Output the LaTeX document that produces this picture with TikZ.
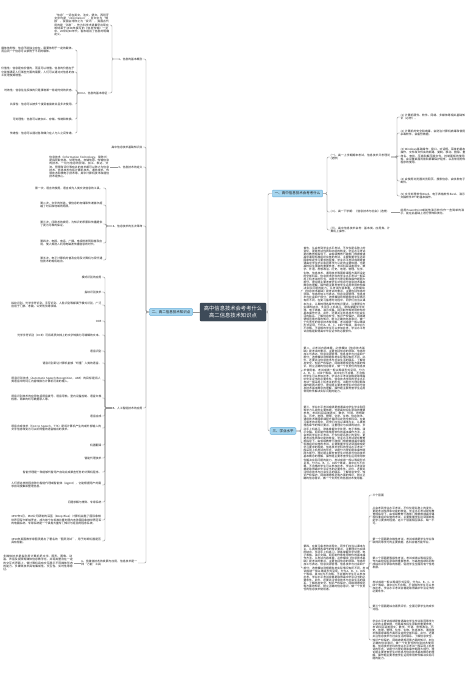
\documentclass[tikz,border=0pt]{standalone}
\usepackage{fontspec}
\setmainfont{Noto Sans CJK SC}
\XeTeXlinebreaklocale "zh"
\XeTeXlinebreakskip = 0pt plus 1pt
\usetikzlibrary{calc}
\definecolor{linegray}{RGB}{150,150,150}
\definecolor{centerfill}{RGB}{62,75,89}
\definecolor{branchfill}{RGB}{166,213,238}
\definecolor{branchdraw}{RGB}{98,172,218}
\definecolor{txtcol}{RGB}{25,25,25}
\newcommand\fsmall{\fontsize{2.8pt}{3.1pt}\selectfont\lineskiplimit=-5pt\lineskip=0pt\relax}
\newcommand\fbranch{\fontsize{3.5pt}{4pt}\selectfont}
\newcommand\fcenter{\fontsize{5.3pt}{7pt}\selectfont}
\newcommand\zwA{从会考到学业水平考试，不仅仅是名称上的变化，更是考试性质和功能的转变。学业水平考试是在教育部指导下，由省级教育行政部门根据普通高中课程标准组织实施的考试，主要衡量学生达到国家规定学习要求的程度。}
\newcommand\zwB{学业水平考试成绩是普通高中学生毕业和同等学力认定的主要依据，也是高校招生录取的重要参考。考试科目涵盖语文、数学、外语、思想政治、历史、地理、物理、化学、生物、信息技术、通用技术等国家课程方案所设定的全部科目。}
\newcommand\zwC{信息技术学科的学业水平考试一般采用上机考试的形式，试题分为理论题和操作题两大部分。理论题主要考查学生对信息与信息技术基本概念的理解，操作题主要考查学生运用常用软件解决实际问题的能力。}
\newcommand\zwD{从考试内容来看，必修模块《信息技术基础》是考试的重点，主要包括信息的获取、信息的加工与表达、信息资源管理、信息技术与社会四个部分；选修模块则根据各地实际情况有所不同。}
\newcommand\zwE{在复习备考的过程中，同学们应当以课本为主，认真梳理各章节的知识要点，注重理论与实践的结合，多动手上机练习，熟练掌握文字处理、电子表格、演示文稿、网页制作等常用软件的基本操作方法。}
\newcommand\zwF{此外，还要关注信息技术与社会生活的联系，了解信息安全、知识产权保护、网络道德规范等方面的知识，树立正确的信息意识，做一个负责任的信息技术使用者。}
\newcommand\zwG{考试成绩一般以等级形式呈现，分为A、B、C、D四个等级，其中D为不合格，不合格的学生可以参加补考。学业水平考试合格是取得高中毕业证书的必要条件。}
\tikzset{
  conn/.style={draw=linegray, line width=0.45pt, rounded corners=1.2pt},
  txt/.style={font=\fsmall, inner sep=0.4pt, align=left, text=txtcol},
  para/.style={txt, text width=#1},
  brbox/.style={draw=branchdraw, fill=branchfill, line width=0.4pt, rounded corners=1pt, font=\fbranch, inner xsep=2.5pt, inner ysep=1.8pt, text=txtcol},
  cbox/.style={fill=centerfill, draw=centerfill!80!black, line width=0.4pt, rounded corners=1pt, text=white, font=\fcenter, align=center, minimum width=66pt, minimum height=18pt, inner sep=1pt}
}
\begin{document}
\begin{tikzpicture}[x=1pt,y=-1pt]
\fill[white] (0,0) rectangle (473,675);
\useasboundingbox (0,0) rectangle (473,675);
% bracket x positions
\coordinate (tR) at (268,0);
\coordinate (tL) at (146,0);
\coordinate (bA1) at (112,0);
\coordinate (bA2) at (77,0);
\coordinate (bD) at (106,0);
\coordinate (bE) at (105,0);
\coordinate (bR1) at (327,0);
\coordinate (bB1) at (397,0);
\coordinate (bR3) at (301,0);
\coordinate (bP4) at (369,0);

% center
\node[cbox] (C) at (233,312) {高中信息技术会考考什么\\高二信息技术知识点};

% branches
\node[brbox] (R1) at (297.5,193.5) {一、高中信息技术会考考什么};
\node[brbox] (L2) at (171,312) {二、高二信息技术知识点};
\node[brbox] (R3) at (283,431) {三、学业水平};

% ---------- left side ----------
\node[txt, anchor=east] (A1) at (143,59) {1、信息的基本概念};
\node[txt, anchor=east] (B0) at (143,147) {高中信息技术基础知识点};
\node[txt, anchor=east] (C0) at (143,167) {3、信息技术的定义};
\node[txt, anchor=east] (D0) at (143,226) {4、信息技术的五次革命};
\node[txt, anchor=east] (E0) at (143,408) {5、人工智能技术的应用};
\node[para=56pt, anchor=east] (F0) at (138,563) {6、多媒体技术的发展与应用，信息技术是一种“万能”工具};

\node[para=55pt, anchor=east] (A1p) at (110,25) {“信息”一词在英文、法文、德文、西班牙文中均是“information”，日文中为“情报”，我国台湾称之为“资讯”，我国古代用的是“消息”。作为科学术语最早出现在哈特莱于1928年撰写的《信息传输》一文中。20世纪40年代，香农给出了信息的明确定义。};
\node[txt, anchor=east] (A2) at (108,93) {2、信息的基本特征};

\node[para=73pt, anchor=east] (A2a) at (75,50) {载体依附性：信息不能独立存在，需要依附于一定的载体，而且同一个信息可以依附于不同的载体。};
\node[para=73pt, anchor=east] (A2b) at (75,72) {价值性：信息是有价值的，而且可以增值。信息的价值在于它能够满足人们某些方面的需要，人们可以通过对信息的加工处理使其增值。};
\node[txt, anchor=east] (A2c) at (75,90) {时效性：信息往往反映的只是事物某一特定时刻的状态。};
\node[txt, anchor=east] (A2d) at (75,104) {共享性：信息可以被多个接受者接收并且多次使用。};
\node[txt, anchor=east] (A2e) at (75,119) {可处理性：信息可以被加工、存储、传递和转换。};
\node[txt, anchor=east] (A2f) at (75,133) {传递性：信息可以通过各种媒介在人与人之间传递。};

\node[para=60pt, anchor=east] (C1) at (110,167) {信息技术（Information Technology，简称IT）是指获取信息、处理信息、存储信息、传输信息的技术。一切与信息的获取、加工、表达、交流、管理和评价等有关的技术都可以称之为信息技术。信息技术包括计算机技术、通信技术、传感技术和微电子技术等，其中计算机技术和通信技术是核心。};

\node[txt, anchor=east] (D1) at (103,188) {第一次，语言的使用，语言成为人类交流信息的工具。};
\node[para=62pt, anchor=east] (D2) at (103,205) {第二次，文字的创造，使信息的存储和传递首次超越了时间和地域的局限。};
\node[para=62pt, anchor=east] (D3) at (103,224) {第三次，印刷术的发明，为知识的积累和传播提供了更为可靠的保证。};
\node[para=62pt, anchor=east] (D4) at (103,243) {第四次，电报、电话、广播、电视的发明和普及应用，使人类进入利用电磁波传播信息的时代。};
\node[para=62pt, anchor=east] (D5) at (103,260) {第五次，电子计算机的普及应用及计算机与现代通信技术的有机结合。};

\node[txt, anchor=east] (E1) at (102,277) {模式识别的应用};
\node[txt, anchor=east] (E2) at (102,292) {指纹识别技术};
\node[para=90pt, anchor=east] (E3) at (102,305) {指纹识别、光学字符识别、手写识别、人脸识别等都属于模式识别，广泛应用于门禁、考勤、公安刑侦等领域。};
\node[txt, anchor=east] (E4) at (102,321) {OCR};
\node[txt, anchor=east] (E5) at (102,335) {光学字符识别（OCR）可将纸质文档上的文字转换为可编辑的文本。};
\node[txt, anchor=east] (E6) at (102,351) {语音识别};
\node[txt, anchor=east] (E7) at (102,363) {语音识别即让计算机能够“听懂”人类的语音。};
\node[para=90pt, anchor=east] (E8) at (102,380) {语音识别技术（Automatic Speech Recognition，ASR）的目标是将人类语音中的词汇内容转换为计算机可读的输入。};
\node[para=90pt, anchor=east] (E9) at (102,398) {语音识别技术的应用包括语音拨号、语音导航、室内设备控制、语音文档检索、简单的听写数据录入等。};
\node[txt, anchor=east] (E10) at (102,416) {语音合成};
\node[para=90pt, anchor=east] (E11) at (102,428) {语音合成技术（Text to Speech，TTS）是将计算机产生的或外部输入的文字信息转变为可以听得懂的语音输出的技术。};
\node[txt, anchor=east] (E12) at (102,445) {机器翻译};
\node[txt, anchor=east] (E13) at (102,458) {智能代理技术};
\node[txt, anchor=east] (E14) at (102,472) {智能代理是一种能够代替用户自动完成某些任务的计算机程序。};
\node[para=90pt, anchor=east] (E15) at (102,485) {人们把这样的程序称为智能代理或智能体（Agent），它能根据用户的需求自动搜集和整理信息。};
\node[txt, anchor=east] (E16) at (102,502) {问题求解与博弈、专家系统};
\node[para=90pt, anchor=east] (E17) at (102,520) {1997年5月，IBM公司研制的深蓝（Deep Blue）计算机战胜了国际象棋世界冠军卡斯帕罗夫，成为首个在标准比赛时限内击败国际象棋世界冠军的电脑系统。专家系统是一个具有大量专门知识与经验的程序系统。};
\node[para=90pt, anchor=east] (E18) at (102,541) {1950年英国数学家图灵提出了著名的“图灵测试”，用于判断机器是否具有智能。};

\node[para=70pt, anchor=east] (F1) at (74,563) {多媒体技术是指利用计算机把文字、图形、图像、动画、声音及视频等媒体信息数字化，并将其整合在一定的交互式界面上，使计算机具有交互展示不同媒体形态的能力。多媒体技术具有集成性、交互性、实时性等特征。};

% ---------- right side ----------
\node[para=60pt, anchor=west] (B1) at (330,157) {(一)、高一上学期期末考试，信息技术只考理论(选修)};
\node[para=60pt, anchor=west] (B2) at (330,212) {(二)、高一下学期：《信息技术与社会》(选修)};
\node[para=60pt, anchor=west] (B3) at (330,230) {(三)、高中信息技术会考：基本类、应用类、计算机上操作。};

\node[para=65pt, anchor=west] (B1a) at (400,117) {(1) 计算机硬件、软件、网络、多媒体等相关基础知识（必修）。};
\node[para=65pt, anchor=west] (B1b) at (400,133) {(2) 计算机的安全和病毒，会防治计算机病毒和使用杀毒软件，会备份数据。};
\node[para=65pt, anchor=west] (B1c) at (400,156) {(3) Windows基础操作：窗口、对话框、菜单的基本操作，文件和文件夹的新建、复制、移动、删除、重命名、查找，压缩和解压缩文件，控制面板的使用等，会设置桌面背景和屏幕保护程序，以及常用附件程序的使用。};
\node[para=65pt, anchor=west] (B1d) at (400,181) {(4) 会使用浏览器浏览网页、搜索信息，会收发电子邮件。};
\node[para=65pt, anchor=west] (B1e) at (400,196) {(5) 文字处理软件Word、电子表格软件Excel、演示文稿软件PPT的基本操作。};
\node[para=65pt, anchor=west] (B2a) at (400,212) {能用PowerPoint或其他演示软件作一些简单的演示，能在此基础上进行修饰和美化。};

\node[para=62pt, anchor=west] (P1) at (303,290) {首先，\zwA\zwB\zwC\zwD\zwE\zwF\zwG};
\node[para=62pt, anchor=west] (P2) at (303,370) {第二，\zwD\zwF\zwG\zwC};
\node[para=62pt, anchor=west] (P3) at (303,443) {第三，\zwB\zwE\zwA\zwC\zwG\zwF};
\node[para=62pt, anchor=west] (P4) at (303,568) {第四，\zwE\zwD\zwG\zwF};

\node[txt, anchor=west] (Q1) at (372,495) {三个层面};
\node[para=62pt, anchor=west] (Q2) at (372,516) {\zwA 这三个层面相互联系，缺一不可。};
\node[para=62pt, anchor=west] (Q3) at (372,541) {第一个层面是合格性考试，考试成绩是学生毕业和取得同等学力的主要依据，各科合格方能毕业。};
\node[para=62pt, anchor=west] (Q4) at (372,563) {第二个层面是等级性考试，考试成绩以等级呈现，作为高校招生录取的重要参考，与高考成绩共同构成综合评价录取的依据，促进学生全面而有个性地发展。};
\node[para=62pt, anchor=west] (Q5) at (372,587) {\zwG};
\node[para=62pt, anchor=west] (Q6) at (372,608) {第三个层面是综合素质评价，全面记录学生的成长过程。};
\node[para=62pt, anchor=west] (Q7) at (372,640) {\zwB\zwF\zwC};

% ---------- connectors ----------
\draw[conn] (C.west) -- (L2.east);
\foreach \n in {R1,R3} \draw[conn] (C.east) -- (C.east -| tR) |- (\n.west);
\foreach \n in {A1,B0,C0,D0,E0,F0} \draw[conn] (L2.west) -- (L2.west -| tL) |- (\n.east);
\foreach \n in {A1p,A2} \draw[conn] (A1.west) -- (A1.west -| bA1) |- (\n.east);
\foreach \n in {A2a,A2b,A2c,A2d,A2e,A2f} \draw[conn] (A2.west) -- (A2.west -| bA2) |- (\n.east);
\draw[conn] (C0.west) -- (C1.east);
\foreach \n in {D1,D2,D3,D4,D5} \draw[conn] (D0.west) -- (D0.west -| bD) |- (\n.east);
\foreach \n in {E1,E2,E3,E4,E5,E6,E7,E8,E9,E10,E11,E12,E13,E14,E15,E16,E17,E18} \draw[conn] (E0.west) -- (E0.west -| bE) |- (\n.east);
\draw[conn] (F0.west) -- (F1.east);
\foreach \n in {B1,B2,B3} \draw[conn] (R1.east) -- (R1.east -| bR1) |- (\n.west);
\foreach \n in {B1a,B1b,B1c,B1d,B1e} \draw[conn] (B1.east) -- (B1.east -| bB1) |- (\n.west);
\draw[conn] (B2.east) -- (B2a.west);
\foreach \n in {P1,P2,P3,P4} \draw[conn] (R3.east) -- (R3.east -| bR3) |- (\n.west);
\foreach \n in {Q1,Q2,Q3,Q4,Q5,Q6,Q7} \draw[conn] (P4.east) -- (P4.east -| bP4) |- (\n.west);
\end{tikzpicture}
\end{document}
